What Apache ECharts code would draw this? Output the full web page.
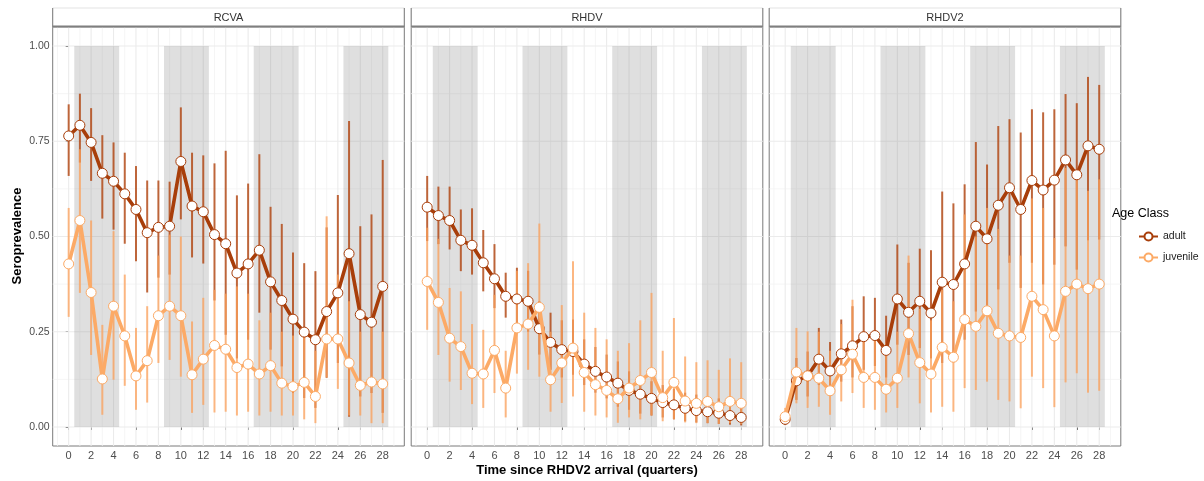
<!DOCTYPE html>
<html><head><meta charset="utf-8">
<script src="https://cdn.jsdelivr.net/npm/echarts@6/dist/echarts.min.js"></script>
<style>html,body{margin:0;padding:0;background:#fff}#c{width:1204px;height:481px}</style>
</head><body><div id="c"></div>
<script>
// ---------- data ----------
const quarters = [0,1,2,3,4,5,6,7,8,9,10,11,12,13,14,15,16,17,18,19,20,21,22,23,24,25,26,27,28];
const panels = ['RCVA','RHDV','RHDV2'];
const ageClasses = ['adult','juvenile'];

const rcvaAdult   = [0.764,0.792,0.747,0.666,0.645,0.612,0.571,0.510,0.524,0.527,0.697,0.580,0.565,0.505,0.481,0.404,0.428,0.464,0.381,0.332,0.283,0.249,0.229,0.303,0.352,0.455,0.295,0.275,0.369];
const rcvaAdultLo = [0.659,0.694,0.646,0.547,0.518,0.481,0.435,0.353,0.392,0.400,0.545,0.445,0.429,0.332,0.242,0.180,0.229,0.300,0.203,0.159,0.089,0.076,0.050,0.129,0.168,0.027,0.080,0.089,0.037];
const rcvaAdultHi = [0.847,0.875,0.837,0.766,0.747,0.720,0.685,0.647,0.647,0.644,0.839,0.720,0.713,0.692,0.725,0.608,0.639,0.716,0.578,0.533,0.458,0.430,0.409,0.524,0.609,0.803,0.527,0.558,0.701];
const rcvaJuv     = [0.428,0.542,0.353,0.126,0.317,0.239,0.134,0.174,0.292,0.317,0.292,0.137,0.178,0.214,0.204,0.156,0.165,0.139,0.161,0.115,0.106,0.117,0.080,0.231,0.231,0.168,0.109,0.118,0.113];
const rcvaJuvLo   = [0.289,0.352,0.189,0.032,0.124,0.108,0.045,0.064,0.168,0.176,0.132,0.037,0.058,0.038,0.040,0.030,0.040,0.030,0.040,0.030,0.030,0.020,0.010,0.130,0.100,0.030,0.030,0.010,0.010];
const rcvaJuvHi   = [0.575,0.729,0.542,0.268,0.514,0.400,0.260,0.317,0.450,0.505,0.500,0.277,0.339,0.360,0.350,0.369,0.350,0.280,0.300,0.250,0.240,0.250,0.200,0.553,0.400,0.330,0.250,0.260,0.250];

const rhdvAdult   = [0.577,0.555,0.542,0.490,0.477,0.431,0.389,0.343,0.336,0.330,0.258,0.222,0.203,0.198,0.165,0.146,0.131,0.115,0.096,0.086,0.075,0.064,0.058,0.049,0.043,0.040,0.036,0.030,0.025];
const rhdvAdultLo = [0.488,0.480,0.466,0.409,0.400,0.356,0.312,0.287,0.255,0.250,0.190,0.150,0.130,0.137,0.110,0.090,0.075,0.053,0.045,0.035,0.030,0.025,0.020,0.015,0.012,0.010,0.008,0.006,0.004];
const rhdvAdultHi = [0.659,0.631,0.631,0.571,0.574,0.517,0.480,0.405,0.418,0.410,0.330,0.300,0.280,0.282,0.230,0.210,0.190,0.172,0.146,0.135,0.120,0.110,0.100,0.090,0.085,0.080,0.075,0.065,0.060];
const rhdvJuv     = [0.382,0.327,0.233,0.211,0.141,0.139,0.201,0.102,0.260,0.270,0.314,0.124,0.168,0.207,0.143,0.111,0.096,0.074,0.102,0.122,0.143,0.077,0.117,0.068,0.062,0.067,0.053,0.067,0.062];
const rhdvJuvLo   = [0.255,0.189,0.119,0.097,0.060,0.050,0.089,0.025,0.140,0.150,0.132,0.040,0.063,0.080,0.040,0.030,0.025,0.011,0.025,0.020,0.030,0.015,0.020,0.012,0.010,0.010,0.008,0.010,0.008];
const rhdvJuvHi   = [0.523,0.494,0.365,0.356,0.270,0.255,0.347,0.200,0.410,0.430,0.534,0.250,0.320,0.435,0.300,0.260,0.230,0.200,0.220,0.280,0.352,0.200,0.286,0.185,0.170,0.175,0.150,0.180,0.170];

const rhdv2Adult   = [0.020,0.121,0.134,0.178,0.147,0.192,0.213,0.237,0.240,0.201,0.336,0.301,0.330,0.299,0.380,0.374,0.428,0.527,0.494,0.582,0.628,0.571,0.647,0.622,0.648,0.701,0.662,0.738,0.729];
const rhdv2AdultLo = [0.005,0.071,0.080,0.110,0.090,0.119,0.130,0.150,0.160,0.130,0.216,0.189,0.207,0.180,0.168,0.170,0.229,0.303,0.312,0.361,0.431,0.365,0.431,0.374,0.426,0.474,0.413,0.490,0.492];
const rhdv2AdultHi = [0.040,0.181,0.198,0.260,0.223,0.282,0.317,0.343,0.339,0.292,0.479,0.431,0.468,0.464,0.618,0.587,0.637,0.748,0.689,0.790,0.808,0.773,0.834,0.826,0.834,0.874,0.850,0.919,0.898];
const rhdv2Juv     = [0.027,0.144,0.134,0.128,0.095,0.150,0.191,0.130,0.130,0.099,0.128,0.245,0.169,0.139,0.209,0.183,0.282,0.264,0.305,0.246,0.239,0.235,0.343,0.308,0.239,0.356,0.375,0.363,0.375];
const rhdv2JuvLo   = [0.010,0.062,0.050,0.053,0.032,0.067,0.089,0.050,0.045,0.038,0.050,0.130,0.062,0.038,0.053,0.040,0.102,0.097,0.119,0.071,0.067,0.049,0.132,0.102,0.052,0.117,0.141,0.090,0.095];
const rhdv2JuvHi   = [0.050,0.260,0.251,0.250,0.200,0.270,0.334,0.250,0.250,0.220,0.250,0.450,0.310,0.280,0.360,0.330,0.558,0.500,0.575,0.520,0.450,0.450,0.600,0.575,0.496,0.680,0.650,0.620,0.650];

const seasonBands = [[0.5,4.5],[8.5,12.5],[16.5,20.5],[24.5,28.5]];
const seasonBandY = [0, 1];
const xTicks = [0,2,4,6,8,10,12,14,16,18,20,22,24,26,28];
const xMinor = [-1,1,3,5,7,9,11,13,15,17,19,21,23,25,27,29];
const yTicks = [0,0.25,0.5,0.75,1];
const yMinor = [0.125,0.375,0.625,0.875];

// ---------- layout / style ----------
const panelData = [
  {adult:[rcvaAdult,rcvaAdultLo,rcvaAdultHi], juvenile:[rcvaJuv,rcvaJuvLo,rcvaJuvHi]},
  {adult:[rhdvAdult,rhdvAdultLo,rhdvAdultHi], juvenile:[rhdvJuv,rhdvJuvLo,rhdvJuvHi]},
  {adult:[rhdv2Adult,rhdv2AdultLo,rhdv2AdultHi], juvenile:[rhdv2Juv,rhdv2JuvLo,rhdv2JuvHi]}
];
const colors = {adult:'#a83e0a', juvenile:'#fcaa66'};
const barColors = {adult:'rgba(176,66,12,0.8)', juvenile:'rgba(252,160,90,0.75)'};
const lefts = [52.7, 411.2, 769.2];
const PW = 351.6, PT = 27, PH = 419, STRIP_TOP = 8;
const FONT = '"Liberation Sans", Arial, sans-serif';

const grids = [], xAxes = [], yAxes = [], series = [], graphics = [];
lefts.forEach((l, i) => {
  grids.push({left:l, top:PT, width:PW, height:PH, show:true, borderColor:'#7a7a7a', borderWidth:1, backgroundColor:'#fff', containLabel:false});
  xAxes.push({type:'value', gridIndex:i, min:-1.425, max:29.925,
    axisLine:{show:false}, splitLine:{show:false},
    axisTick:{show:true, customValues:xTicks, length:3, lineStyle:{color:'#333', width:1}},
    axisLabel:{show:true, customValues:xTicks, margin:4, color:'#4d4d4d', fontSize:11, fontFamily:FONT}});
  yAxes.push({type:'value', gridIndex:i, min:-0.05, max:1.05,
    axisLine:{show:false}, splitLine:{show:false},
    axisTick:{show:i===0, customValues:yTicks, length:3, lineStyle:{color:'#333', width:1}},
    axisLabel:{show:i===0, customValues:yTicks, margin:3, color:'#4d4d4d', fontSize:10.5, fontFamily:FONT,
      formatter:v=>v.toFixed(2)}});

  // gridlines
  const gl = [];
  xMinor.forEach(v=>gl.push([v,0,0,0]));
  yMinor.forEach(v=>gl.push([0,v,1,0]));
  xTicks.forEach(v=>gl.push([v,0,0,1]));
  yTicks.forEach(v=>gl.push([0,v,1,1]));
  series.push({type:'custom', name:'grid'+i, xAxisIndex:i, yAxisIndex:i, silent:true, z:1, data:gl,
    encode:{x:0,y:1},
    renderItem:(params, api)=>{
      const cs = params.coordSys;
      const major = api.value(3) === 1;
      const style = {stroke: major ? '#ebebeb' : '#f3f3f3', lineWidth: major ? 1.1 : 0.8};
      if (api.value(2) === 0) {
        const px = api.coord([api.value(0), 0])[0];
        return {type:'line', shape:{x1:px, y1:cs.y, x2:px, y2:cs.y+cs.height}, style};
      } else {
        const py = api.coord([0, api.value(1)])[1];
        return {type:'line', shape:{x1:cs.x, y1:py, x2:cs.x+cs.width, y2:py}, style};
      }
    }});
  // season bands
  series.push({type:'custom', name:'bands'+i, xAxisIndex:i, yAxisIndex:i, silent:true, z:2,
    data: seasonBands.map(b=>[b[0], b[1], seasonBandY[0], seasonBandY[1]]),
    encode:{x:[0,1], y:[2,3]},
    renderItem:(params, api)=>{
      const p0 = api.coord([api.value(0), api.value(3)]);
      const p1 = api.coord([api.value(1), api.value(2)]);
      return {type:'rect', shape:{x:p0[0], y:p0[1], width:p1[0]-p0[0], height:p1[1]-p0[1]},
        style:{fill:'rgba(127,127,127,0.25)'}};
    }});
  // error bars
  ageClasses.forEach(ac=>{
    const [m, lo, hi] = panelData[i][ac];
    series.push({type:'custom', name:ac+' interval '+i, xAxisIndex:i, yAxisIndex:i, silent:true, z:3,
      data: quarters.map((q,k)=>[q, lo[k], hi[k]]),
      encode:{x:0, y:[1,2]},
      renderItem:(params, api)=>{
        const a = api.coord([api.value(0), api.value(1)]);
        const b = api.coord([api.value(0), api.value(2)]);
        return {type:'line', shape:{x1:a[0], y1:a[1], x2:b[0], y2:b[1]},
          style:{stroke: barColors[ac], lineWidth: 2}};
      }});
  });
  // lines + points
  ageClasses.forEach((ac, j)=>{
    const m = panelData[i][ac][0];
    series.push({type:'line', name:ac, xAxisIndex:i, yAxisIndex:i, z:4+j,
      data: quarters.map((q,k)=>[q, m[k]]),
      symbol:'circle', symbolSize:10, showSymbol:true,
      lineStyle:{color:colors[ac], width:3.6},
      itemStyle:{color:'#fff', borderColor:colors[ac], borderWidth:1},
      emphasis:{disabled:true}});
  });

  // strip
  graphics.push({type:'rect', shape:{x:l, y:STRIP_TOP, width:PW, height:PT-STRIP_TOP}, style:{fill:'#fff', stroke:'#e3e3e3', lineWidth:1}, z:10});
  graphics.push({type:'line', shape:{x1:l, y1:STRIP_TOP, x2:l, y2:PT}, style:{stroke:'#7a7a7a', lineWidth:1}, z:11});
  graphics.push({type:'line', shape:{x1:l+PW, y1:STRIP_TOP, x2:l+PW, y2:PT}, style:{stroke:'#7a7a7a', lineWidth:1}, z:11});
  graphics.push({type:'line', shape:{x1:l, y1:PT-0.5, x2:l+PW, y2:PT-0.5}, style:{stroke:'#7f7f7f', lineWidth:2}, z:11});
  graphics.push({type:'text', x:l+PW/2, y:(STRIP_TOP+PT)/2, style:{text:panels[i], fill:'#333', font:'11px '+FONT, textAlign:'center', textVerticalAlign:'middle'}, z:12});
});

graphics.push({type:'text', x:587, y:470, style:{text:'Time since RHDV2 arrival (quarters)', fill:'#000', font:'bold 13px '+FONT, textAlign:'center', textVerticalAlign:'middle'}});
graphics.push({type:'text', x:17, y:236, rotation:Math.PI/2, style:{text:'Seroprevalence', fill:'#000', font:'bold 13px '+FONT, textAlign:'center', textVerticalAlign:'middle'}});
graphics.push({type:'text', x:1112, y:214, style:{text:'Age Class', fill:'#000', font:'12.5px '+FONT, textAlign:'left', textVerticalAlign:'middle'}});

const chart = echarts.init(document.getElementById('c'), null, {renderer:'canvas'});
chart.setOption({
  animation:false,
  backgroundColor:'#fff',
  grid:grids, xAxis:xAxes, yAxis:yAxes, series:series, graphic:graphics,
  legend:{data:ageClasses, orient:'vertical', left:1133, top:226, itemWidth:19, itemHeight:10, itemGap:10,
    textStyle:{fontSize:10.5, color:'#1a1a1a', fontFamily:FONT}}
});
</script></body></html>
